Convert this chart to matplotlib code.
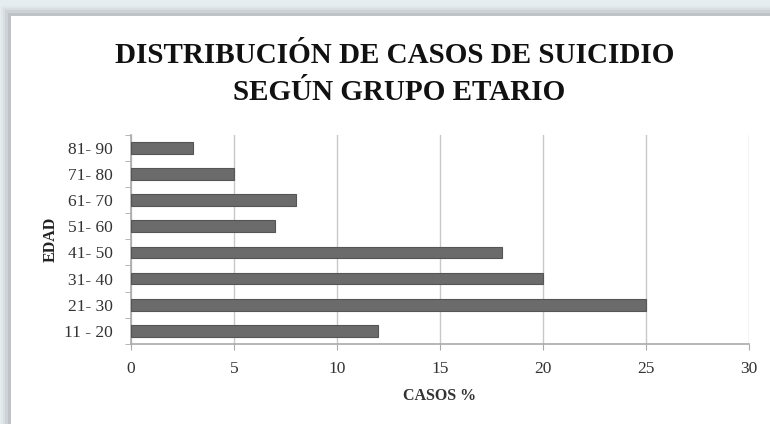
import matplotlib
matplotlib.use("Agg")
import matplotlib.pyplot as plt
import matplotlib.patches as mpatches

groups = ["11 - 20", "21- 30", "31- 40", "41- 50", "51- 60", "61- 70", "71- 80", "81- 90"]
cases_pct = [12, 25, 20, 18, 7, 8, 5, 3]
x_ticks = [0, 5, 10, 15, 20, 25, 30]

plt.rcParams["font.family"] = ["Liberation Serif", "DejaVu Serif"]

fig = plt.figure(figsize=(7.7, 4.24), dpi=100)
fig.patch.set_facecolor("#e6edf1")

# chart box with soft shadow
for i, a in enumerate([0.05, 0.08, 0.12, 0.18]):
    d = (4 - i) * 0.003
    fig.patches.append(mpatches.Rectangle((0.013 - d, -0.1), 1.1, 1.065 + d * 1.8,
                                          transform=fig.transFigure, facecolor="#7a7f84",
                                          alpha=a, edgecolor="none", zorder=-3))
fig.patches.append(mpatches.Rectangle((0.014, -0.1), 1.1, 1.063,
                                      transform=fig.transFigure, facecolor="white",
                                      edgecolor="none", zorder=-2))

ax = fig.add_axes([0.170, 0.189, 0.803, 0.493])
ax.set_zorder(2)
ax.set_facecolor("white")
ax.barh(range(len(groups)), cases_pct, height=0.45, color="#6b6b6b",
        edgecolor="#555555", linewidth=0.8, zorder=3)

ax.set_xlim(0, 30)
ax.set_ylim(-0.5, len(groups) - 0.5)
ax.set_xticks(x_ticks)
ax.set_yticks(range(len(groups)))
ax.set_yticklabels(groups)
ax.set_yticks([i - 0.5 for i in range(len(groups) + 1)], minor=True)
ax.grid(axis="x", color="#c8c8c8", linewidth=1, zorder=0)
ax.tick_params(axis="y", which="major", length=0, pad=13, labelsize=12.5, labelcolor="#333333")
ax.tick_params(axis="y", which="minor", length=4, color="#aaaaaa", direction="out")
ax.tick_params(axis="x", length=4, color="#aaaaaa", direction="out", pad=8,
               labelsize=12.5, labelcolor="#333333")
for s in ["top", "right"]:
    ax.spines[s].set_visible(False)
for s in ["left", "bottom"]:
    ax.spines[s].set_color("#aaaaaa")
    ax.spines[s].set_linewidth(1.2)

ax.set_xlabel("CASOS %", fontsize=11.5, fontweight="bold", color="#333333", labelpad=8)
ax.set_ylabel("EDAD", fontsize=11.5, fontweight="bold", color="#222222", labelpad=4)

fig.text(0.513, 0.868, "DISTRIBUCIÓN DE CASOS DE SUICIDIO", ha="center", va="center",
         fontsize=21, fontweight="bold", color="#111111")
fig.text(0.518, 0.782, "SEGÚN GRUPO ETARIO", ha="center", va="center",
         fontsize=21, fontweight="bold", color="#111111")

fig.savefig("out.png", dpi=100, facecolor=fig.get_facecolor())
